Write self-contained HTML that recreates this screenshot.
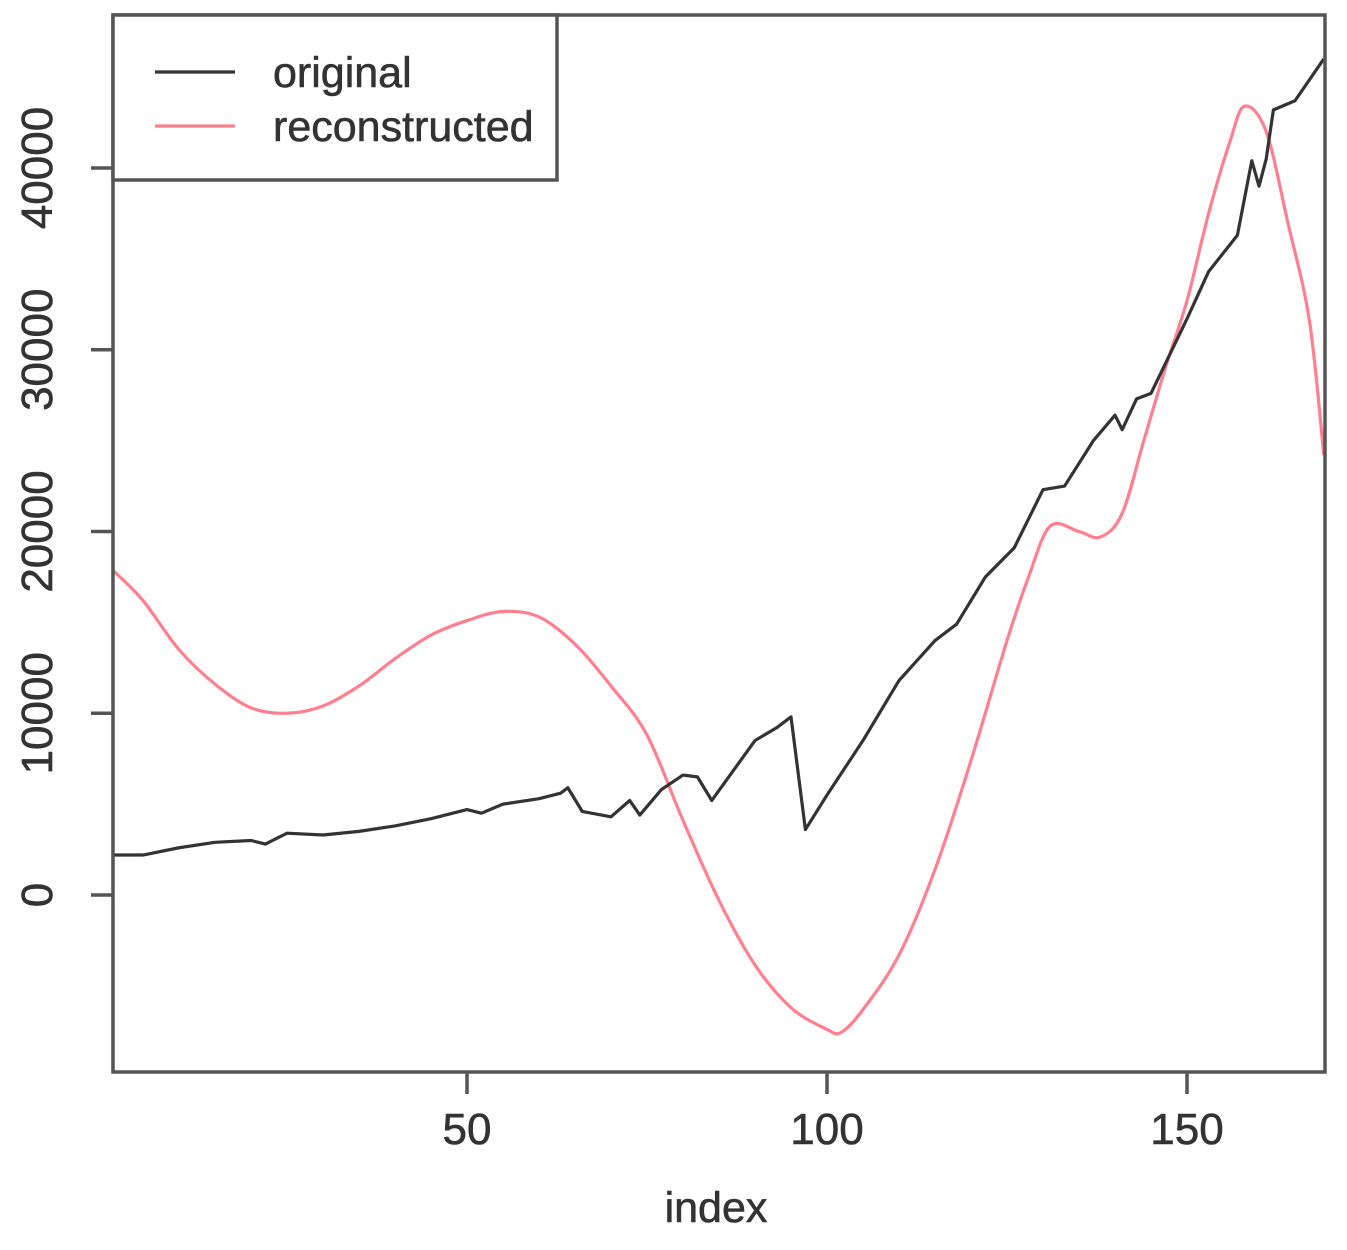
<!DOCTYPE html>
<html><head><meta charset="utf-8"><style>
html,body{margin:0;padding:0;background:#fff;}
svg text{font-family:"Liberation Sans",sans-serif;fill:#333;}
</style></head><body>
<svg width="1347" height="1245" viewBox="0 0 1347 1245" xmlns="http://www.w3.org/2000/svg">
<g id="plot"></g>
</svg>
<script>
const origIdx=[1,5,10,15,20,22,25,30,35,40,45,50,52,55,60,63,64,66,70,72.6,74,77,80,82,84,90,93,95,97,100,105,110,115,118,122,126,130,133,137,140,141,143,145,150,153,156,157,159,160,161,162,165,169];
const origVal=[2200,2200,2600,2900,3000,2800,3400,3300,3500,3800,4200,4700,4500,5000,5300,5600,5900,4600,4300,5200,4400,5800,6600,6500,5200,8500,9200,9800,3600,5500,8500,11800,14000,14900,17500,19100,22300,22500,25000,26400,25600,27300,27600,31700,34300,35800,36300,40400,39000,40500,43200,43700,46000];
const recIdx=[1,5,10,15,20,25,30,35,40,45,50,55,60,65,70,75,80,85,90,95,100,102,105,110,115,120,125,128,131,135,138,141,144,147,150,153,156,158,161,164,167,169];
const recVal=[17800,16200,13500,11600,10300,10000,10400,11500,13000,14300,15100,15600,15300,13800,11500,8800,4100,-300,-3850,-6200,-7400,-7550,-6300,-3300,1400,7400,14000,17500,20300,20000,19700,21000,25000,29000,32700,37500,41500,43400,42000,37000,31600,24200];
const xTicks=[50,100,150];
const yTicks=[0,10000,20000,30000,40000];
const L=113,R=1325,T=15,B=1072;
const xs=v=>114.2+(v-1)*7.2;
const ys=v=>895-v*0.018175;
const NS="http://www.w3.org/2000/svg";
const g=document.getElementById('plot');
function mk(t,a){const e=document.createElementNS(NS,t);for(const k in a)e.setAttribute(k,a[k]);g.appendChild(e);return e;}
function smoothPath(xa,ya){
 const P=xa.map((x,i)=>[xs(x),ys(ya[i])]);
 let d='M'+P[0][0]+','+P[0][1];
 for(let i=0;i<P.length-1;i++){
  const p0=P[Math.max(0,i-1)],p1=P[i],p2=P[i+1],p3=P[Math.min(P.length-1,i+2)];
  const c1=[p1[0]+(p2[0]-p0[0])/6,p1[1]+(p2[1]-p0[1])/6];
  const c2=[p2[0]-(p3[0]-p1[0])/6,p2[1]-(p3[1]-p1[1])/6];
  d+=' C'+c1[0]+','+c1[1]+' '+c2[0]+','+c2[1]+' '+p2[0]+','+p2[1];
 }
 return d;
}
const rp=mk('path',{d:smoothPath(recIdx,recVal),fill:'none',stroke:'#ff7f8f','stroke-width':3.2});


const op=mk('polyline',{points:origIdx.map((x,i)=>xs(x)+','+ys(origVal[i])).join(' '),fill:'none',stroke:'#333','stroke-width':3.2,'stroke-linejoin':'round'});


const box=mk('rect',{x:L,y:T,width:R-L,height:B-T,fill:'none',stroke:'#555','stroke-width':3.5});


xTicks.forEach(v=>{
 const t=mk('line',{x1:xs(v),x2:xs(v),y1:B,y2:B+22,stroke:'#555','stroke-width':3.5});
 
 
 const l=mk('text',{x:xs(v),y:1144,'font-size':44,'text-anchor':'middle',stroke:'#333','stroke-width':0.6});
 l.textContent=v;
 
 
});
yTicks.forEach(v=>{
 const t=mk('line',{x1:L-22,x2:L,y1:ys(v),y2:ys(v),stroke:'#555','stroke-width':3.5});
 
 
 const l=mk('text',{x:52,y:ys(v),'font-size':44,'text-anchor':'middle',stroke:'#333','stroke-width':0.6,transform:'rotate(-90 52 '+ys(v)+')'});
 l.textContent=v;
 
 
});
const xt=mk('text',{x:716,y:1222,'font-size':43,'text-anchor':'middle',stroke:'#333','stroke-width':0.6});
xt.textContent='index';


const lg=mk('rect',{x:113,y:15,width:444,height:165,fill:'#fff',stroke:'#555','stroke-width':3.5});


[['original','#333',72],['reconstructed','#ff7f8f',126]].forEach(([n,c,y])=>{
 const s=mk('line',{x1:155,x2:235,y1:y,y2:y,stroke:c,'stroke-width':3.2});
 
 
 const t=mk('text',{x:273,y:y+15,'font-size':43,stroke:'#333','stroke-width':0.6});
 t.textContent=n;
 
 
});
</script>
</body></html>
